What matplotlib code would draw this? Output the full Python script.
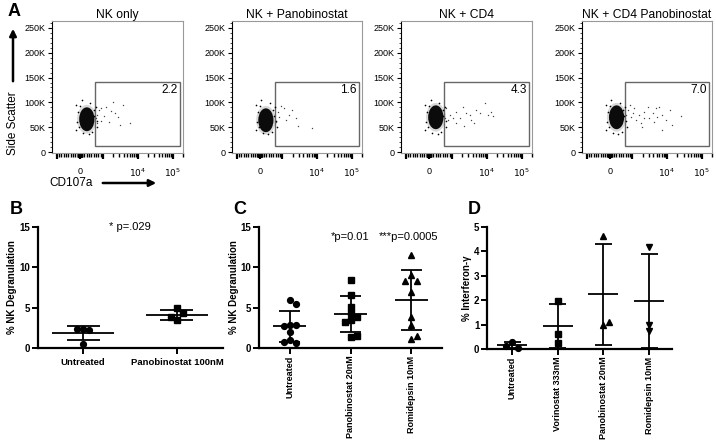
import numpy as np
import matplotlib
matplotlib.use("Agg")
import matplotlib.pyplot as plt
from matplotlib.patches import Ellipse, Rectangle

plt.rcParams['font.family'] = ['Liberation Sans', 'DejaVu Sans']

W, H = 716, 444

# ---------------- panel A : flow plots ----------------
# CD107a in display units (decades from zero, biexponential), side scatter in K
flow_titles = ["NK only", "NK + Panobinostat", "NK + CD4", "NK + CD4 Panobinostat"]
gate_pct = ["2.2", "1.6", "4.3", "7.0"]
gate_x = [0.43, 2.87]
gate_y = [12, 142]
blob_x = [0.20, 0.18, 0.20, 0.20]
blob_y = [66, 64, 70, 70]

ev1_x = [0.55, 0.62, 0.75, 0.90, 1.00, 0.70, 0.60, 0.85, 1.10, 1.25, 1.15, 0.50, 0.45, 1.45, 0.95, 0.50]
ev1_y = [85, 88, 90, 82, 78, 72, 62, 60, 70, 95, 55, 75, 68, 58, 100, 58]
ev2_x = [0.52, 0.71, 0.86, 1.05, 1.12, 0.76, 1.52, 0.57, 0.95, 0.48, 0.62]
ev2_y = [81, 88, 74, 68, 52, 64, 48, 71, 84, 60, 92]
ev3_x = [0.60, 0.79, 0.89, 1.08, 1.22, 1.36, 1.60, 1.70, 1.84, 1.31, 0.79, 0.98, 1.46, 0.55, 1.17, 0.70, 0.45, 1.79, 0.50, 1.00]
ev3_y = [75, 81, 68, 78, 65, 84, 98, 75, 72, 58, 58, 91, 78, 65, 75, 68, 68, 81, 88, 52]
ev4_x = [0.52, 0.71, 0.86, 1.00, 1.14, 1.24, 1.38, 1.52, 1.62, 1.81, 1.33, 1.10, 0.76, 0.90, 1.52,
         0.62, 1.00, 1.76, 0.48, 1.29, 0.67, 0.58, 0.95, 1.42, 2.05]
ev4_y = [84, 88, 74, 81, 68, 78, 71, 75, 65, 54, 88, 91, 65, 58, 44, 71, 68, 84, 74, 61, 78, 95, 50, 90, 72]
halo_x = [0.45, 0.50, -0.10, -0.12, 0.35, 0.05, 0.42, -0.05, 0.30, 0.10, 0.48, -0.08, 0.25, 0.0, 0.40, -0.02]
halo_y = [90, 50, 95, 45, 40, 104, 72, 80, 98, 38, 62, 60, 36, 92, 84, 50]
flow_ev_x = [ev1_x, ev2_x, ev3_x, ev4_x]
flow_ev_y = [ev1_y, ev2_y, ev3_y, ev4_y]

# ---------------- panel B ----------------
b_labels = ["Untreated", "Panobinostat 100nM"]
b_untreated = [2.3, 2.2, 2.4, 0.5]
b_panob = [4.9, 4.3, 3.5, 3.8]

# ---------------- panel C ----------------
c_labels = ["Untreated", "Panobinostat 20nM", "Romidepsin 10nM"]
c_untreated = [5.9, 5.5, 2.9, 2.8, 2.75, 2.0, 1.0, 0.6, 0.7]
c_panob = [8.4, 6.6, 5.1, 4.3, 3.8, 3.5, 3.2, 1.4, 1.5]
c_romi = [11.5, 9.0, 8.3, 8.3, 7.0, 3.8, 2.9, 1.15, 1.5]

# ---------------- panel D ----------------
d_labels = ["Untreated", "Vorinostat 333nM", "Panobinostat 20nM", "Romidepsin 10nM"]
d_untreated = [0.28, 0.05, 0.12]
d_vorino = [1.95, 0.62, 0.25]
d_panob = [4.63, 1.0, 1.09]
d_romi = [4.18, 0.72, 1.0]

fig = plt.figure(figsize=(W / 100, H / 100), dpi=100)


def px_axes(l, t, r, b):
    return fig.add_axes([l / W, 1 - b / H, (r - l) / W, (b - t) / H])


def biex(v):
    v = np.asarray(v, float)
    a = np.abs(v)
    return np.sign(v) * np.where(a <= 1000, a / 1000 * 0.66, 0.66 + np.log10(np.maximum(a, 1) / 1000))


flow_boxes = [(52, 183), (232, 362), (401, 532), (582, 712)]
major_v = [0, 1e4, 1e5]
minor_v = [k * 10 ** d for d in range(1, 5) for k in range(1, 10)] + [1e5, 2e5]
minor_v = minor_v + [-k * 10 ** d for d in range(1, 3) for k in range(1, 10)] + [-1000]

for i, (l, r) in enumerate(flow_boxes):
    ax = px_axes(l, 21, r, 153)
    ax.set_xlim(-0.8, 2.94)
    ax.set_ylim(-2, 264)
    ax.add_patch(Ellipse((blob_x[i], blob_y[i]), 0.56, 58, color='black', alpha=0.15, lw=0))
    ax.add_patch(Ellipse((blob_x[i], blob_y[i]), 0.44, 48, color='black', alpha=0.95, lw=0))
    ax.plot(halo_x, halo_y, 'o', color='black', ms=1.2, mew=0)
    ax.plot(flow_ev_x[i], flow_ev_y[i], 'o', color='#444444', ms=1.0, mew=0)
    ax.add_patch(Rectangle((gate_x[0], gate_y[0]), gate_x[1] - gate_x[0], gate_y[1] - gate_y[0],
                           fill=False, ec='#666666', lw=1.0))
    ax.text(gate_x[1] - 0.06, gate_y[1] - 5, gate_pct[i], ha='right', va='top', fontsize=8.5)
    ax.set_title(flow_titles[i], fontsize=8.7, pad=2)
    for s in ['top', 'right', 'bottom']:
        ax.spines[s].set_color('#999999')
        ax.spines[s].set_linewidth(0.8)
    ax.spines['left'].set_linewidth(0.8)
    ax.set_yticks([0, 50, 100, 150, 200, 250])
    ax.set_yticklabels(["0", "50K", "100K", "150K", "200K", "250K"])
    ax.set_yticks(np.arange(0, 261, 10), minor=True)
    ax.set_xticks(biex(major_v + [1000, -1000]))
    ax.set_xticklabels(["0", "$10^4$", "$10^5$", "", ""])
    ax.set_xticks(biex(minor_v), minor=True)
    ax.tick_params(axis='y', which='major', labelsize=6.5, length=3, width=0.8, pad=1.5)
    ax.tick_params(axis='y', which='minor', length=1.5, width=0.5)
    ax.tick_params(axis='x', which='major', labelsize=6.5, length=4, width=1.6, pad=6)
    ax.tick_params(axis='x', which='minor', length=3, width=1.0)

fig.text(8 / W, 1 - 12 / H, "A", fontsize=13, fontweight='bold', va='center')
fig.text(13 / W, 1 - 123 / H, "Side Scatter", rotation=90, fontsize=8.5, ha='center', va='center')
fig.text(71 / W, 1 - 183 / H, "CD107a", fontsize=8.5, ha='center', va='center')
fig.add_artist(matplotlib.patches.FancyArrowPatch((13 / W, 1 - 84 / H), (13 / W, 1 - 26 / H),
               transform=fig.transFigure, arrowstyle='-|>', mutation_scale=10, lw=1.8, color='black'))
fig.add_artist(matplotlib.patches.FancyArrowPatch((100 / W, 1 - 183 / H), (159 / W, 1 - 183 / H),
               transform=fig.transFigure, arrowstyle='-|>', mutation_scale=10, lw=1.8, color='black'))


# ---------------- Prism style dot plots ----------------
def swarm(vals, ppx, ppy, d=6.0):
    placed = []
    offs = []
    for v in vals:
        yp = v * ppy
        for k in [0, 1, -1, 2, -2, 3, -3]:
            xp = k * d
            if all((xp - px) ** 2 + (yp - py) ** 2 >= d ** 2 for px, py in placed):
                break
        placed.append((xp, yp))
        offs.append(xp / ppx)
    return np.array(offs)


def dot_plot(ax, box, xlim, ylim, groups, markers, mean_px, cap_px):
    l, t, r, b = box
    ppx = (r - l) / (xlim[1] - xlim[0])
    ppy = (b - t) / (ylim[1] - ylim[0])
    ax.set_xlim(*xlim)
    ax.set_ylim(*ylim)
    for i, (vals, m) in enumerate(zip(groups, markers)):
        vals = np.array(vals)
        xs = swarm(vals, ppx, ppy) + i
        ax.plot(xs, vals, m, color='black', ms=4.2, ls='none', clip_on=False, zorder=3)
        mu = vals.mean()
        sd = vals.std(ddof=1)
        ax.hlines(mu, i - mean_px / 2 / ppx, i + mean_px / 2 / ppx, color='black', lw=1.3)
        ax.hlines([mu - sd, mu + sd], i - cap_px / 2 / ppx, i + cap_px / 2 / ppx, color='black', lw=1.3)
        ax.vlines(i, mu - sd, mu + sd, color='black', lw=1.3)
    ax.spines[['top', 'right']].set_visible(False)
    for s in ['left', 'bottom']:
        ax.spines[s].set_linewidth(1.6)
    ax.tick_params(width=1.4, length=4, labelsize=7, pad=1.5)
    ax.set_xticks(range(len(groups)))


box_b = (38, 227, 223, 348)
ax_b = px_axes(*box_b)
dot_plot(ax_b, box_b, (-0.48, 1.49), (0, 15), [b_untreated, b_panob], ['o', 's'], 62, 33)
ax_b.set_yticks([0, 5, 10, 15])
ax_b.set_yticklabels(["0", "5", "10", "15"], fontweight='bold')
ax_b.set_xticklabels(b_labels, fontsize=6.8, fontweight='bold')
ax_b.tick_params(axis='x', pad=3)
ax_b.set_ylabel("% NK Degranulation", fontsize=7, fontweight='bold', labelpad=2)
ax_b.text(0.5, 15, "* p=.029", ha='center', va='center', fontsize=8)

box_c = (259, 227, 442, 348)
ax_c = px_axes(*box_c)
dot_plot(ax_c, box_c, (-0.51, 2.51), (0, 15), [c_untreated, c_panob, c_romi], ['o', 's', '^'], 33, 21)
ax_c.set_yticks([0, 5, 10, 15])
ax_c.set_yticklabels(["0", "5", "10", "15"], fontweight='bold')
ax_c.set_xticklabels(c_labels, fontsize=6.5, fontweight='bold', rotation=90)
ax_c.set_ylabel("% NK Degranulation", fontsize=7, fontweight='bold', labelpad=1)
ax_c.text(1, 13.8, "*p=0.01", ha='center', va='center', fontsize=8)
ax_c.text(1.95, 13.8, "***p=0.0005", ha='center', va='center', fontsize=8)

box_d = (487, 227, 672, 349)
ax_d = px_axes(*box_d)
dot_plot(ax_d, box_d, (-0.55, 3.5), (0, 5), [d_untreated, d_vorino, d_panob, d_romi],
         ['o', 's', '^', 'v'], 30, 17)
ax_d.set_yticks([0, 1, 2, 3, 4, 5])
ax_d.set_yticklabels(["0", "1", "2", "3", "4", "5"], fontweight='bold')
ax_d.set_xticklabels(d_labels, fontsize=6.5, fontweight='bold', rotation=90)
ax_d.set_ylabel("% Interferon-\u03b3", fontsize=7, fontweight='bold', labelpad=1)

fig.text(10 / W, 1 - 209 / H, "B", fontsize=13, fontweight='bold', va='center')
fig.text(233 / W, 1 - 209 / H, "C", fontsize=13, fontweight='bold', va='center')
fig.text(468 / W, 1 - 209 / H, "D", fontsize=13, fontweight='bold', va='center')

fig.savefig("out.png", dpi=100)
